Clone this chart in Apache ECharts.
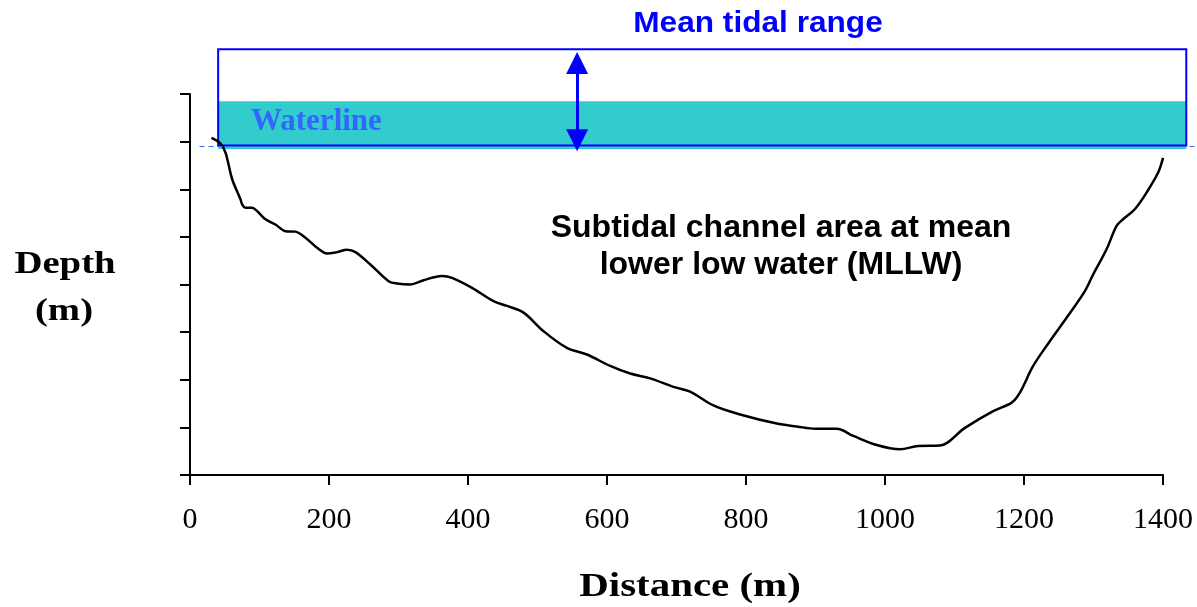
<!DOCTYPE html>
<html>
<head>
<meta charset="utf-8">
<script src="https://cdn.jsdelivr.net/npm/echarts@6/dist/echarts.min.js"></script>
<style>
html,body{margin:0;padding:0;background:#fff;}
#chart{width:1197px;height:607px;}
</style>
</head>
<body>
<div id="chart"></div>
<script>
// Channel cross-section profile (distance in m, elevation relative to MLLW in m)
const distance = [30.9, 43.9, 51.1, 60.7, 72.6, 75.1, 79.8, 89.4, 96.6, 108.6, 122.9, 137.3, 151.7, 166.1, 182.9, 197.3, 211.6, 226.0, 238.0, 259.5, 285.8, 297.9, 317.0, 336.2, 362.6, 377.0, 405.8, 436.8, 456.1, 479.9, 508.7, 542.3, 571.1, 604.6, 633.4, 662.1, 695.6, 719.6, 753.1, 791.5, 844.3, 873.1, 899.4, 930.6, 954.4, 988.1, 1021.6, 1047.9, 1079.1, 1115.0, 1155.7, 1182.2, 1194.1, 1213.2, 1237.2, 1261.3, 1287.6, 1299.5, 1318.8, 1333.2, 1342.6, 1359.4, 1376.3, 1393.0, 1400.0];
const elevation = [0.08, -0.04, -0.23, -0.79, -1.21, -1.32, -1.39, -1.39, -1.46, -1.63, -1.74, -1.88, -1.89, -2.02, -2.23, -2.35, -2.32, -2.27, -2.32, -2.58, -2.93, -2.98, -3.00, -2.91, -2.82, -2.86, -3.07, -3.35, -3.45, -3.59, -3.98, -4.33, -4.47, -4.71, -4.87, -4.97, -5.15, -5.25, -5.54, -5.73, -5.92, -5.98, -6.03, -6.03, -6.18, -6.37, -6.46, -6.39, -6.38, -6.01, -5.66, -5.48, -5.27, -4.71, -4.19, -3.70, -3.14, -2.79, -2.26, -1.77, -1.63, -1.42, -1.07, -0.65, -0.34];

// Axis extents
const xRange = [0, 1400];
const xStep = 200;
const yRange = [-7, 1];
const yStep = 1;

// Annotations (data coordinates)
const tidalBoxX = [40.5, 1433.5];
const tidalBoxY = [-0.08, 1.94];
const waterBandY = [-0.155, 0.85];
const waterlineX = [13.7, 1446];
const waterlineY = -0.09;
const arrowX = 557;
const arrowY = [1.65, 0.03];

// Texts
const titleText = 'Mean tidal range';
const waterText = 'Waterline';
const areaText = ['Subtidal channel area at mean', 'lower low water (MLLW)'];
const yTitle = ['Depth', '(m)'];
const xTitle = 'Distance (m)';

const W = 1197, H = 607;
const plot = {left: 190, right: 34, top: 94, bottom: 132};
// overlay grid with identical scale, extended to the top and right edges so annotations are not clipped
const plotW = W - plot.left - plot.right, plotH = H - plot.top - plot.bottom;
const overlay = {left: plot.left, right: 0, top: 0, bottom: plot.bottom};
const overXMax = xRange[0] + (xRange[1] - xRange[0]) * (W - overlay.left) / plotW;
const overYMax = yRange[0] + (yRange[1] - yRange[0]) * (H - overlay.bottom) / plotH;

const chart = echarts.init(document.getElementById('chart'), null, {renderer: 'canvas'});
const profile = distance.map((d, i) => [d, elevation[i]]);

const sans = 'bold {s}px "Liberation Sans", Arial, sans-serif';
const serif = 'bold {s}px "Liberation Serif", "Times New Roman", serif';
const f = (tpl, s) => tpl.replace('{s}', s);

chart.setOption({
  animation: false,
  backgroundColor: '#ffffff',
  grid: [plot, overlay],
  xAxis: [{
    type: 'value', gridIndex: 0, min: xRange[0], max: xRange[1], interval: xStep,
    axisLine: {show: true, onZero: false, lineStyle: {color: '#000', width: 2}},
    axisTick: {show: true, length: 10, lineStyle: {color: '#000', width: 2}},
    axisLabel: {color: '#000', fontFamily: '"Liberation Serif", "Times New Roman", serif', fontSize: 30, margin: 30,
      formatter: v => String(v)},
    splitLine: {show: false}
  }, {
    type: 'value', gridIndex: 1, min: xRange[0], max: overXMax, show: false
  }],
  yAxis: [{
    type: 'value', gridIndex: 0, min: yRange[0], max: yRange[1], interval: yStep,
    axisLine: {show: true, onZero: false, lineStyle: {color: '#000', width: 2}},
    axisTick: {show: true, length: 10, lineStyle: {color: '#000', width: 2}},
    axisLabel: {show: false},
    splitLine: {show: false}
  }, {
    type: 'value', gridIndex: 1, min: yRange[0], max: overYMax, show: false
  }],
  graphic: [
    {type: 'text', z: 100, x: 758, y: 24, scaleX: 1.09, style: {text: titleText, font: f(sans, 29), fill: '#0000ff', align: 'center', verticalAlign: 'middle'}},
    {type: 'text', z: 100, x: 251, y: 122, style: {text: waterText, font: f(serif, 31), fill: '#3366ff', align: 'left', verticalAlign: 'middle'}},
    {type: 'text', z: 100, x: 781, y: 228, style: {text: areaText[0], font: f(sans, 32), fill: '#000', align: 'center', verticalAlign: 'middle'}},
    {type: 'text', z: 100, x: 781, y: 265, style: {text: areaText[1], font: f(sans, 32), fill: '#000', align: 'center', verticalAlign: 'middle'}},
    {type: 'text', z: 100, x: 65, y: 265, scaleX: 1.25, style: {text: yTitle[0], font: f(serif, 31), fill: '#000', align: 'center', verticalAlign: 'middle'}},
    {type: 'text', z: 100, x: 64, y: 312, scaleX: 1.25, style: {text: yTitle[1], font: f(serif, 31), fill: '#000', align: 'center', verticalAlign: 'middle'}},
    {type: 'text', z: 100, x: 690, y: 587, scaleX: 1.24, style: {text: xTitle, font: f(serif, 33), fill: '#000', align: 'center', verticalAlign: 'middle'}}
  ],
  series: [{
    type: 'line',
    xAxisIndex: 1, yAxisIndex: 1,
    data: [[tidalBoxX[0], tidalBoxY[0]], [tidalBoxX[1], tidalBoxY[1]]],
    symbol: 'none',
    silent: true,
    clip: false,
    z: 2,
    lineStyle: {opacity: 0},
    markArea: {
      silent: true,
      label: {show: false},
      emphasis: {disabled: true},
      data: [
        [{coord: [tidalBoxX[0], waterBandY[1]], itemStyle: {color: '#33cccc', borderWidth: 0}},
         {coord: [tidalBoxX[1], waterBandY[0]]}],
        [{coord: [tidalBoxX[0], tidalBoxY[1]], itemStyle: {color: 'rgba(0,0,0,0)', borderColor: '#0000ff', borderWidth: 2}},
         {coord: [tidalBoxX[1], tidalBoxY[0]]}]
      ]
    },
    markLine: {
      silent: true,
      symbol: 'none',
      label: {show: false},
      emphasis: {disabled: true},
      data: [
        [{coord: [waterlineX[0], waterlineY], lineStyle: {color: '#3366ff', width: 1, type: [5, 4]}},
         {coord: [waterlineX[1], waterlineY]}],
        [{coord: [arrowX, arrowY[0]], symbol: 'triangle', symbolSize: [22, 22], lineStyle: {color: '#0000ff', width: 3, type: 'solid'}, itemStyle: {color: '#0000ff'}},
         {coord: [arrowX, arrowY[1]], symbol: 'triangle', symbolSize: [22, 22], itemStyle: {color: '#0000ff'}}]
      ]
    }
  }, {
    type: 'line',
    xAxisIndex: 0, yAxisIndex: 0,
    data: profile,
    smooth: 0.35,
    symbol: 'none',
    silent: true,
    z: 3,
    lineStyle: {color: '#000', width: 2.5}
  }]
});
</script>
</body>
</html>
